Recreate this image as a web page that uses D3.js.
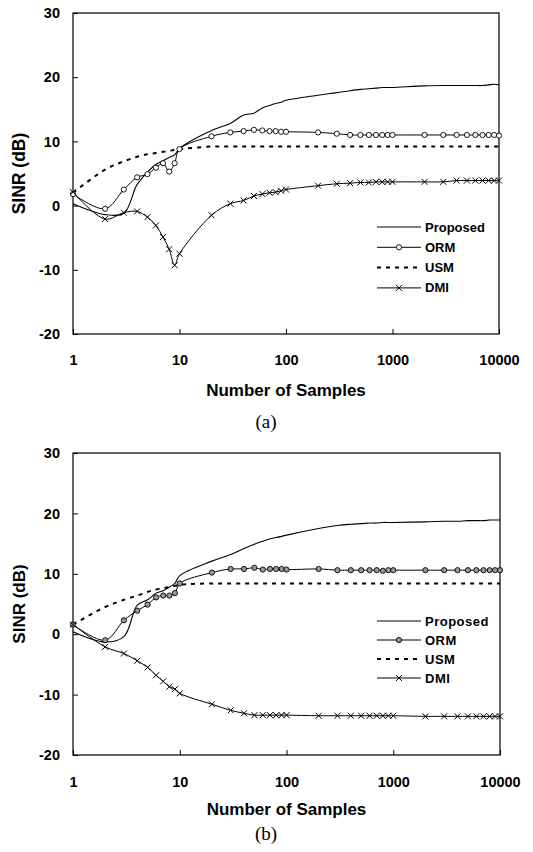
<!DOCTYPE html>
<html>
<head>
<meta charset="utf-8">
<script src="https://cdn.jsdelivr.net/npm/d3@7"></script>
<style>
  body { margin: 0; background: #fff; }
  svg { display: block; }
  text { font-family: "Liberation Sans", Arial, sans-serif; }
</style>
</head>
<body>
<script>
// sample counts (x axis, log scale)
var samples = [1,2,3,4,5,6,7,8,9,10, 20,30,40,50,60,70,80,90,100,
  200,300,400,500,600,700,800,900,1000, 2000,3000,4000,5000,6000,7000,8000,9000,10000]

var xTicks = [1, 10, 100, 1000, 10000]
var yTicks = [-20, -10, 0, 10, 20, 30]
var seriesNames = ["Proposed", "ORM", "USM", "DMI"]

// panel (a)
var propA = [0.3,-1.4,-1.2,3.3,5.2,6.4,7.0,7.5,7.9,8.9, 11.7,12.8,14.1,14.4,15.2,15.6,15.9,16.1,16.4,
  17.2,17.6,17.9,18.1,18.2,18.3,18.4,18.4,18.4, 18.65,18.7,18.7,18.7,18.7,18.7,18.8,18.9,18.8]
var ormA = [1.8,-0.5,2.5,4.4,4.9,5.9,6.6,5.3,6.6,8.8, 10.8,11.4,11.6,11.8,11.7,11.6,11.6,11.5,11.5,
  11.4,11.2,11.0,11.0,11.0,11.0,11.0,11.0,11.0, 11.0,11.0,11.0,11.0,11.0,11.0,11.0,11.0,10.9]
var usmA = [2.0,5.6,6.9,7.6,8.0,8.2,8.4,8.5,8.7,8.8, 9.2,9.2,9.2,9.2,9.2,9.2,9.2,9.2,9.2,
  9.2,9.2,9.2,9.2,9.2,9.2,9.2,9.2,9.2, 9.2,9.2,9.2,9.2,9.2,9.2,9.2,9.2,9.2]
var dmiA = [2.1,-2.1,-1.1,-0.9,-1.8,-3.1,-4.9,-6.8,-9.3,-7.5, -1.5,0.3,0.8,1.5,1.8,2.0,2.1,2.3,2.5,
  3.1,3.4,3.5,3.6,3.6,3.7,3.7,3.7,3.7, 3.7,3.7,3.9,3.9,3.9,3.9,3.9,3.9,3.9]

// panel (b)
var propB = [0.4,-1.3,-0.4,4.8,5.7,6.8,7.2,7.8,8.4,9.7, 12.1,13.2,14.2,14.9,15.4,15.8,16.0,16.2,16.4,
  17.5,18.0,18.2,18.3,18.4,18.4,18.5,18.5,18.5, 18.6,18.7,18.7,18.8,18.8,18.8,18.9,18.9,18.9]
var ormB = [1.6,-1.0,2.3,3.9,4.9,6.1,6.4,6.4,6.8,8.4, 10.2,10.8,10.8,11.0,10.7,10.8,10.8,10.8,10.7,
  10.8,10.6,10.6,10.6,10.6,10.6,10.5,10.6,10.6, 10.6,10.6,10.6,10.6,10.6,10.6,10.6,10.6,10.6]
var usmB = [1.6,4.5,5.7,6.4,7.0,7.4,7.6,7.8,8.0,8.2, 8.4,8.4,8.4,8.4,8.4,8.4,8.4,8.4,8.4,
  8.4,8.4,8.4,8.4,8.4,8.4,8.4,8.4,8.4, 8.4,8.4,8.4,8.4,8.4,8.4,8.4,8.4,8.4]
var dmiB = [1.6,-2.1,-3.2,-4.4,-5.5,-6.8,-7.8,-8.7,-9.1,-9.8, -11.6,-12.6,-13.1,-13.4,-13.4,-13.4,-13.4,-13.4,-13.4,
  -13.5,-13.5,-13.5,-13.5,-13.5,-13.5,-13.5,-13.5,-13.5, -13.6,-13.6,-13.6,-13.6,-13.6,-13.6,-13.6,-13.6,-13.6]

var svg = d3.select("body").append("svg")
  .attr("width", 533)
  .attr("height", 852)

function drawPanel(p) {
  var x = d3.scaleLog().domain([1, 10000]).range([p.left, p.right])
  var y = d3.scaleLinear().domain([-20, 30]).range([p.bottom, p.top])
  var g = svg.append("g")

  // frame
  g.append("rect")
    .attr("x", p.left).attr("y", p.top)
    .attr("width", p.right - p.left).attr("height", p.bottom - p.top)
    .attr("fill", "none").attr("stroke", "#000").attr("stroke-width", 1.2)

  var plain = function(d) { return String(d) }  // hyphen minus, like the original
  var yAxis = g.append("g")
    .attr("transform", "translate(" + p.left + ",0)")
    .call(d3.axisLeft(y).tickValues(yTicks).tickFormat(plain)
      .tickSize(-5).tickSizeOuter(0).tickPadding(13))
  var xAxis = g.append("g")
    .attr("transform", "translate(0," + p.bottom + ")")
    .call(d3.axisBottom(x).tickValues(xTicks).tickFormat(plain)
      .tickSize(-5).tickSizeOuter(0).tickPadding(p.xPad))
  ;[xAxis, yAxis].forEach(function(a) {
    a.select(".domain").remove()
    a.selectAll("line").attr("stroke", "#000")
    a.selectAll("text")
      .style("font-family", "'Liberation Sans', Arial, sans-serif")
      .style("font-weight", "bold")
      .style("font-size", "14.5px")
      .attr("fill", "#000")
  })

  // axis titles
  g.append("text")
    .attr("transform", "translate(" + 25 + "," + ((p.top + p.bottom) / 2) + ") rotate(-90)")
    .attr("text-anchor", "middle")
    .style("font-weight", "bold").style("font-size", p.yTitleSize + "px")
    .text("SINR (dB)")
  g.append("text")
    .attr("x", (p.left + p.right) / 2).attr("y", p.xTitleY)
    .attr("text-anchor", "middle")
    .style("font-weight", "bold").style("font-size", "17px")
    .text("Number of Samples")
  g.append("text")
    .attr("x", 266).attr("y", p.captionY)
    .attr("text-anchor", "middle")
    .style("font-family", "'Liberation Serif', 'Times New Roman', serif")
    .style("font-size", "19px")
    .text(p.caption)

  var line = d3.line()
    .x(function(d, i) { return x(samples[i]) })
    .y(function(d) { return y(d) })
    .curve(d3.curveCatmullRom.alpha(0.5))

  var series = [
    { vals: p.prop, dash: null, w: 1.1 },
    { vals: p.orm, dash: null, w: 1, marker: "circle" },
    { vals: p.usm, dash: "4,5", w: 2 },
    { vals: p.dmi, dash: null, w: 1, marker: "x" }
  ]

  series.forEach(function(s) {
    g.append("path")
      .datum(s.vals)
      .attr("d", line)
      .attr("fill", "none")
      .attr("stroke", "#000")
      .attr("stroke-width", s.w)
      .attr("stroke-dasharray", s.dash)
  })

  function drawMarker(sel, type, cx, cy) {
    if (type == "circle") {
      sel.append("circle")
        .attr("cx", cx).attr("cy", cy).attr("r", 2.6)
        .attr("fill", p.circleFill).attr("stroke", "#000").attr("stroke-width", 0.9)
    } else if (type == "x") {
      var r = 3
      sel.append("path")
        .attr("d", "M" + (cx - r) + "," + (cy - r) + "L" + (cx + r) + "," + (cy + r) +
          "M" + (cx - r) + "," + (cy + r) + "L" + (cx + r) + "," + (cy - r))
        .attr("stroke", "#000").attr("stroke-width", 1)
    }
  }

  series.forEach(function(s) {
    if (!s.marker) return
    var mg = g.append("g")
    s.vals.forEach(function(v, i) { drawMarker(mg, s.marker, x(samples[i]), y(v)) })
  })

  // legend
  var leg = g.append("g")
  seriesNames.forEach(function(name, i) {
    var s = series[i]
    var ly = p.legendY + i * p.legendStep
    leg.append("line")
      .attr("x1", 377).attr("x2", 421).attr("y1", ly).attr("y2", ly)
      .attr("stroke", "#000").attr("stroke-width", s.w)
      .attr("stroke-dasharray", s.dash)
    if (s.marker) drawMarker(leg, s.marker, 399, ly)
    leg.append("text")
      .attr("x", 425).attr("y", ly).attr("dy", "0.35em")
      .style("font-weight", "bold").style("font-size", "13px")
      .style("letter-spacing", p.legendSpacing)
      .text(name)
  })
}

drawPanel({
  left: 73, right: 499, top: 13, bottom: 334, xPad: 21,
  prop: propA, orm: ormA, usm: usmA, dmi: dmiA,
  yTitleSize: 17.5, xTitleY: 396, captionY: 428, caption: "(a)",
  legendY: 227, legendStep: 20.3, circleFill: "#fff", legendSpacing: "0px"
})

drawPanel({
  left: 73, right: 500, top: 453, bottom: 755, xPad: 22,
  prop: propB, orm: ormB, usm: usmB, dmi: dmiB,
  yTitleSize: 17, xTitleY: 815, captionY: 840, caption: "(b)",
  legendY: 621, legendStep: 19, circleFill: "#999", legendSpacing: "0.5px"
})
</script>
</body>
</html>
